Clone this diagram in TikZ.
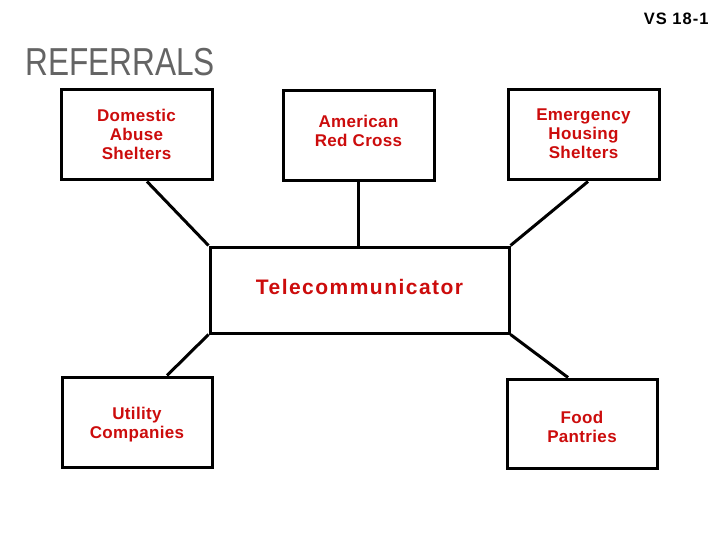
\documentclass[tikz,border=0pt]{standalone}
\usepackage{fontspec}
\setmainfont{Liberation Sans}
\newfontfamily\boxfont{Liberation Sans}[LetterSpace=2]
\newfontfamily\telfont{Liberation Sans}[LetterSpace=7]
\newfontfamily\vsfont{Liberation Sans}[LetterSpace=6]
\newfontfamily\titlefont{Liberation Sans}[FakeStretch=0.81]
\usetikzlibrary{calc}
\definecolor{boxred}{RGB}{204,12,12}
\definecolor{titlegray}{RGB}{100,100,100}
\tikzset{
  refbox/.style={draw=black, line width=3pt, fill=white, rectangle, inner sep=0pt,
    minimum width=151pt, minimum height=90pt},
  boxtext/.style={align=center, text=boxred, inner sep=0pt,
    font=\boxfont\bfseries\fontsize{17}{19}\selectfont},
  link/.style={draw=black, line width=3pt}
}
\begin{document}
\begin{tikzpicture}[x=1pt,y=-1pt]
\useasboundingbox (0,0) rectangle (720,540);
\fill[white] (0,0) rectangle (720,540);

\node[anchor=base east, font=\vsfont\bfseries\fontsize{16.5}{19}\selectfont] (vs) at (712,25) {VS 18-1};
\node[anchor=base west, inner sep=0pt, text=titlegray, font=\titlefont\fontsize{39}{44}\selectfont] (title) at (25,76) {REFERRALS};

\node[refbox, label={[boxtext, yshift=1pt]center:Domestic\\Abuse\\Shelters}] (dom) at (136.5,135) {};
\node[refbox, label={[boxtext, yshift=5pt]center:American\\Red Cross}] (arc) at (358.5,136) {};
\node[refbox, label={[boxtext, yshift=1pt]center:Emergency\\Housing\\Shelters}] (ehs) at (583.5,135) {};
\node[refbox, minimum width=299pt, minimum height=86pt,
  label={[boxtext, yshift=3pt, font=\telfont\bfseries\fontsize{21}{24}\selectfont]center:Telecommunicator}] (tel) at (359.5,290) {};
\node[refbox, minimum width=150pt, label={[boxtext, yshift=-3pt]center:Utility\\Companies}] (uti) at (137,422) {};
\node[refbox, minimum width=150pt, minimum height=89pt, label={[boxtext, yshift=-3pt]center:Food\\Pantries}] (food) at (582,423.5) {};

\draw[link] ($(dom.south)+(10.5,0)$) -- (tel.north west);
\draw[link] (arc.south) -- (arc.south |- tel.north);
\draw[link] ($(ehs.south)+(4.5,0)$) -- (tel.north east);
\draw[link] ($(uti.north)+(30,0)$) -- (tel.south west);
\draw[link] ($(food.north)+(-14,0)$) -- (tel.south east);
\end{tikzpicture}
\end{document}
